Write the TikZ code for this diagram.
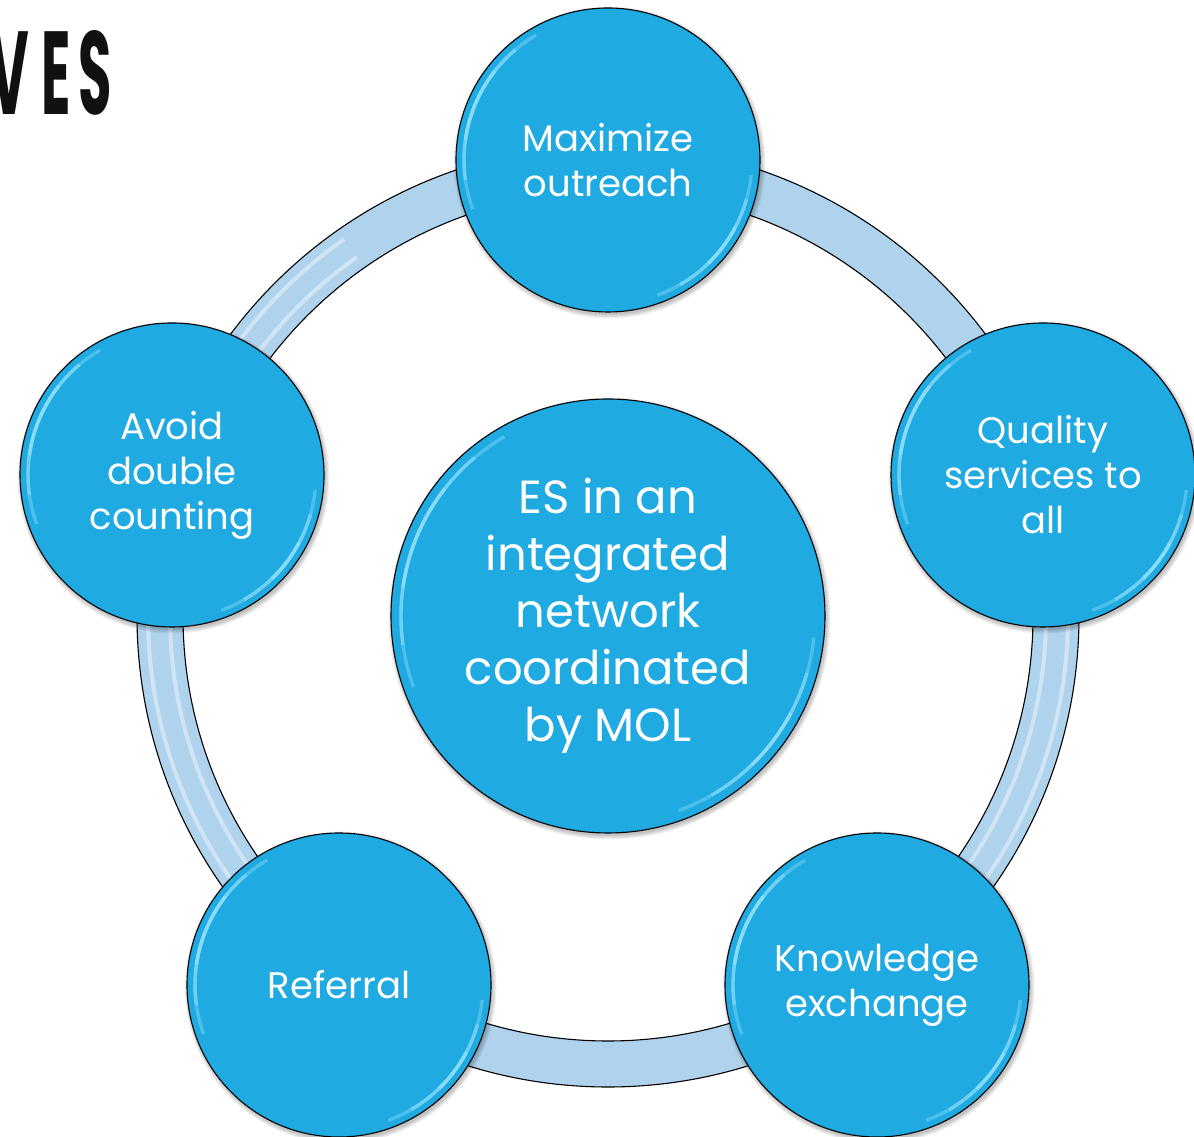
\documentclass[tikz,border=0pt]{standalone}
\usepackage{fontspec}
\setmainfont{Poppins}
\usetikzlibrary{calc}
\definecolor{bub}{RGB}{31,170,226}
\definecolor{ringc}{RGB}{176,211,237}
\definecolor{titlec}{RGB}{17,17,17}
\definecolor{glow}{RGB}{160,232,255}
\newcommand\glosshl[2]{%
  \foreach \a/\b/\o in {120/200/0.35,130/188/0.45,142/172/0.55}{%
    \draw[glow,line width=3.4pt,opacity=\o] (#1.center) ++(\a:#2) arc[start angle=\a,end angle=\b,radius=#2];}%
  \foreach \a/\b/\o in {-70/-6/0.35,-60/-16/0.45,-46/-28/0.55}{%
    \draw[glow,line width=3.4pt,opacity=\o] (#1.center) ++(\a:#2) arc[start angle=\a,end angle=\b,radius=#2];}%
}
\newcommand\softshadow[2]{%
  \foreach \d in {0,1,2,3,4}{%
    \fill[black,opacity=0.05] ($(#1)+(1.5,-2.5)$) circle ({#2+\d});}%
}
\begin{document}
\begin{tikzpicture}[x=1pt,y=1pt,
  bubble/.style={circle, fill=bub, draw=black, line width=1.1pt, text=white,
    align=center, inner sep=0pt},
  smallbub/.style={bubble, minimum size=304pt, font=\fontsize{37}{45}\selectfont},
  bigbub/.style={bubble, minimum size=434pt, font=\fontsize{46.5}{57}\selectfont},
  ringline/.style={black, line width=1.1pt},
  stripe/.style={white, line width=4pt, opacity=0.4},
]
\useasboundingbox (0,0) rectangle (1194,1137);
\fill[white] (0,0) rectangle (1194,1137);

\coordinate (c) at (608,521);
\coordinate (pmax) at (608,977);
\coordinate (pqual) at (1043,662);
\coordinate (pknow) at (877,152);
\coordinate (pref) at (339,152);
\coordinate (pavoid) at (172,662);

% ring
\draw[ringc, line width=46pt] (c) circle (448);
\draw[stripe] (c) ++(125:460) arc[start angle=125,end angle=240,radius=460];
\draw[stripe] (c) ++(125:438) arc[start angle=125,end angle=240,radius=438];
\draw[stripe] (c) ++(-60:460) arc[start angle=-60,end angle=30,radius=460];
\draw[stripe] (c) ++(-60:438) arc[start angle=-60,end angle=30,radius=438];
\draw[ringline] (c) circle (471);
\draw[ringline] (c) circle (425);

% shadows
\softshadow{c}{217}
\softshadow{pmax}{152}
\softshadow{pqual}{152}
\softshadow{pknow}{152}
\softshadow{pref}{152}
\softshadow{pavoid}{152}

% bubbles
\node[bigbub] (center) at (c) {ES in an\\integrated\\network\\coordinated\\by MOL};
\node[smallbub] (max) at (pmax) {Maximize\\outreach};
\node[smallbub] (qual) at (pqual) {Quality\\services to\\all};
\node[smallbub] (know) at (pknow) {Knowledge\\exchange};
\node[smallbub] (ref) at (pref) {Referral};
\node[smallbub] (avoid) at (pavoid) {Avoid\\double\\counting};

\glosshl{center}{207}
\glosshl{max}{144}
\glosshl{qual}{144}
\glosshl{know}{144}
\glosshl{ref}{144}
\glosshl{avoid}{144}

% title fragment (cut off at the left edge, as in the reference)
\node[anchor=base east, inner sep=0pt, text=titlec,
  font=\fontsize{118}{118}\selectfont\bfseries] (title) at (112,1022)
  {\scalebox{0.46}[1]{V\hspace{28pt}E\hspace{16pt}S}};
\end{tikzpicture}
\end{document}
